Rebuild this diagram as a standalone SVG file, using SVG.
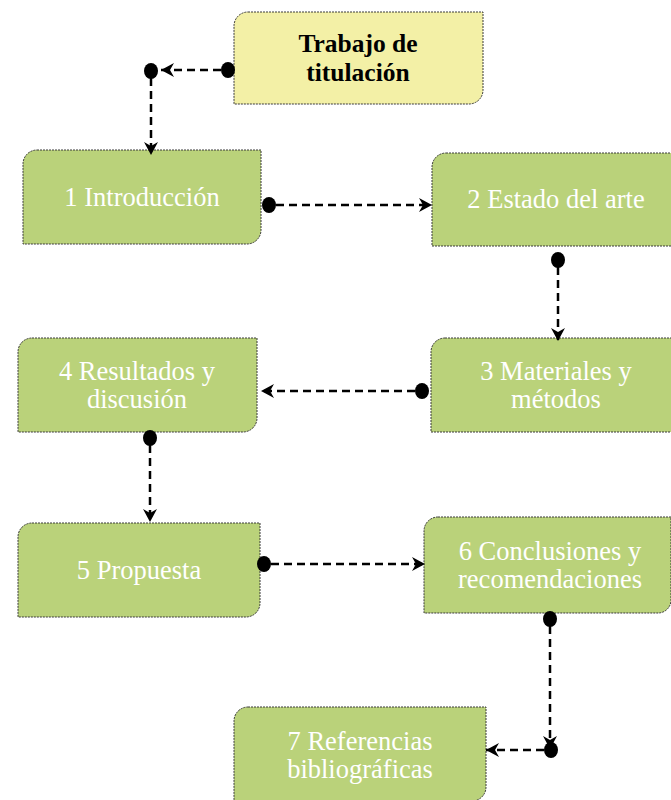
<svg xmlns="http://www.w3.org/2000/svg" width="671" height="800" viewBox="0 0 671 800">
<defs>
<style>
.box{stroke:#3a3a3a;stroke-width:1;stroke-dasharray:2,1;}
.green{fill:#bad27a;}
.yellow{fill:#f3f0a6;}
.lbl{font-family:"Liberation Serif","Times New Roman",serif;font-size:26.5px;fill:#ffffff;text-anchor:middle;}
.title{font-family:"Liberation Serif","Times New Roman",serif;font-size:25.5px;font-weight:bold;fill:#000000;text-anchor:middle;}
.conn{stroke:#000;stroke-width:2.5;stroke-dasharray:8,5;fill:none;}
.dot{fill:#000;}
</style>
<marker id="ah" markerWidth="16" markerHeight="16" refX="13" refY="7" orient="auto" markerUnits="userSpaceOnUse">
<path d="M0,0 L13,7 L0,14 L4,7 Z" fill="#000"/>
</marker>
</defs>
<rect width="671" height="800" fill="#ffffff"/>

<g id="n0">
<path class="box yellow" d="M248,12 H483 V90 A14,14 0 0 1 469,104 H234 V26 A14,14 0 0 1 248,12 Z"/>
<text class="title" x="358" y="52">Trabajo de</text>
<text class="title" x="358" y="81">titulación</text>
</g>

<g id="n1">
<path class="box green" d="M37,150 H261 V230 A14,14 0 0 1 247,244 H23 V164 A14,14 0 0 1 37,150 Z"/>
<text class="lbl" x="142" y="206">1 Introducción</text>
</g>

<g id="n2">
<path class="box green" d="M446,153 H686 V246 H432 V167 A14,14 0 0 1 446,153 Z"/>
<text class="lbl" x="556" y="208">2 Estado del arte</text>
</g>

<g id="n3">
<path class="box green" d="M445,338 H686 V432 H431 V352 A14,14 0 0 1 445,338 Z"/>
<text class="lbl" x="556" y="380">3 Materiales y</text>
<text class="lbl" x="556" y="408">métodos</text>
</g>

<g id="n4">
<path class="box green" d="M32,338 H257 V418 A14,14 0 0 1 243,432 H18 V352 A14,14 0 0 1 32,338 Z"/>
<text class="lbl" x="137" y="380">4 Resultados y</text>
<text class="lbl" x="137" y="408">discusión</text>
</g>

<g id="n5">
<path class="box green" d="M32,523 H260 V603 A14,14 0 0 1 246,617 H18 V537 A14,14 0 0 1 32,523 Z"/>
<text class="lbl" x="139" y="579">5 Propuesta</text>
</g>

<g id="n6">
<path class="box green" d="M438,517 H671 V600 A13,13 0 0 1 658,613 H424 V531 A14,14 0 0 1 438,517 Z"/>
<text class="lbl" x="550" y="560">6 Conclusiones y</text>
<text class="lbl" x="550" y="588">recomendaciones</text>
</g>

<g id="n7">
<path class="box green" d="M248,707 H486 V787 A14,14 0 0 1 472,801 H234 V721 A14,14 0 0 1 248,707 Z"/>
<text class="lbl" x="360" y="750">7 Referencias</text>
<text class="lbl" x="360" y="778">bibliográficas</text>
</g>

<g id="connectors">
<line class="conn" x1="221" y1="70" x2="161" y2="70" marker-end="url(#ah)"/>
<line class="conn" x1="151" y1="78" x2="151" y2="155" marker-end="url(#ah)"/>
<line class="conn" x1="276" y1="205" x2="432" y2="205" marker-end="url(#ah)"/>
<line class="conn" x1="558" y1="267" x2="558" y2="341" marker-end="url(#ah)"/>
<line class="conn" x1="415" y1="391" x2="261" y2="391" marker-end="url(#ah)"/>
<line class="conn" x1="150" y1="445" x2="150" y2="522" marker-end="url(#ah)"/>
<line class="conn" x1="271" y1="564" x2="425" y2="564" marker-end="url(#ah)"/>
<line class="conn" x1="550" y1="626" x2="550" y2="749" marker-end="url(#ah)"/>
<line class="conn" x1="544" y1="750" x2="486" y2="750" marker-end="url(#ah)"/>
<ellipse class="dot" cx="228" cy="70" rx="7" ry="8"/>
<ellipse class="dot" cx="151" cy="71" rx="7" ry="8"/>
<ellipse class="dot" cx="269" cy="205" rx="7" ry="8"/>
<ellipse class="dot" cx="558" cy="260" rx="7" ry="8"/>
<ellipse class="dot" cx="422" cy="391" rx="7" ry="8"/>
<ellipse class="dot" cx="150" cy="438" rx="7" ry="8"/>
<ellipse class="dot" cx="264" cy="564" rx="7" ry="8"/>
<ellipse class="dot" cx="550" cy="619" rx="7" ry="8"/>
<ellipse class="dot" cx="551" cy="750" rx="7" ry="8"/>
</g>
</svg>
